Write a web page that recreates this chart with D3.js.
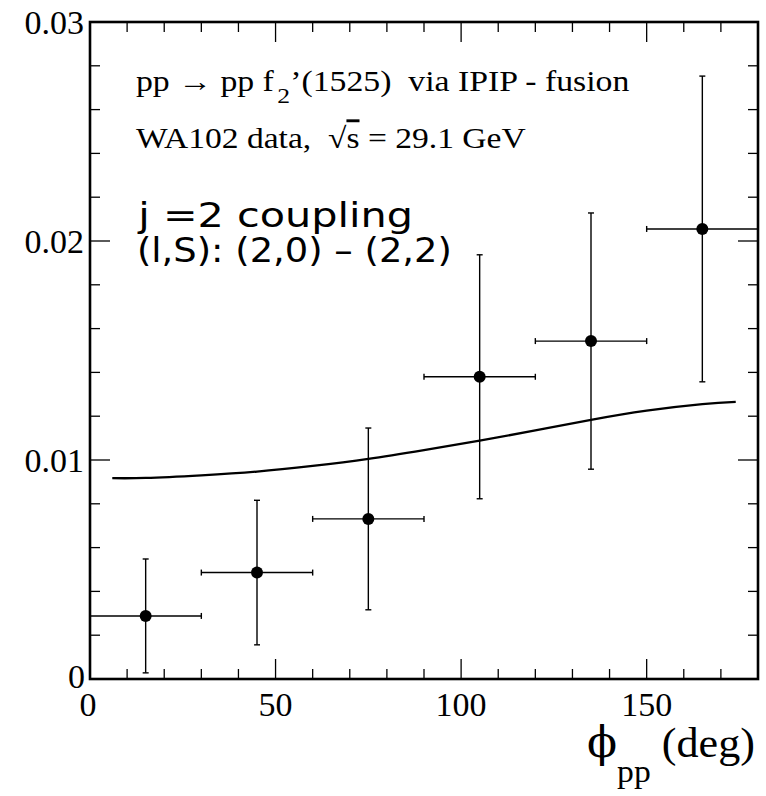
<!DOCTYPE html>
<html>
<head>
<meta charset="utf-8">
<script src="https://cdn.jsdelivr.net/npm/d3@7"></script>
<style>
  html, body { margin: 0; padding: 0; background: #fff; }
  svg { display: block; }
  text { white-space: pre; }
</style>
</head>
<body>
<svg id="chart" width="766" height="796"></svg>
<script>
// Azimuthal angle between outgoing protons, bin centres (deg)
const phiCenters = [15, 45, 75, 105, 135, 165];
const binHalfWidth = [15, 15, 15, 15, 15, 15];
// WA102 measured distribution and symmetric errors
const dataValues = [0.00288, 0.00486, 0.00731, 0.0138, 0.01543, 0.02055];
const dataErrors = [0.0026, 0.0033, 0.00415, 0.00557, 0.00585, 0.00698];
// Model prediction (j=2 coupling)
const curvePhi = [6, 15, 30, 45, 60, 75, 90, 105, 120, 135, 150, 165, 174];
const curveValues = [0.00917, 0.00918, 0.0093, 0.00947, 0.00973, 0.01005, 0.01045, 0.01088, 0.01135, 0.01183, 0.01225, 0.01255, 0.01265];
// Axis ticks
const xMajorTicks = [0, 50, 100, 150];
const xMinorTicks = d3.range(0, 181, 10);
const yMajorTicks = [0, 0.01, 0.02, 0.03];
const yMinorTicks = d3.range(0, 0.0301, 0.002);
const yTickLabels = ["0", "0.01", "0.02", "0.03"];

const svg = d3.select("#chart");
const margin = { left: 90, top: 22, right: 8, bottom: 117 };
const W = 766, H = 796;
const x0 = margin.left, x1 = W - margin.right;
const y0 = H - margin.bottom, y1 = margin.top;

const x = d3.scaleLinear().domain([0, 180]).range([x0, x1]);
const y = d3.scaleLinear().domain([0, 0.03]).range([y0, y1]);

const serif = "'Liberation Serif', 'Times New Roman', serif";
const sans = "'DejaVu Sans', Verdana, sans-serif";

// Ticks (inward on all four sides)
const tickG = svg.append("g").attr("stroke", "#000").attr("stroke-width", 1.3);
xMinorTicks.forEach(v => {
  const len = xMajorTicks.includes(v) ? 20 : 10;
  tickG.append("line").attr("x1", x(v)).attr("x2", x(v)).attr("y1", y0).attr("y2", y0 - len);
  tickG.append("line").attr("x1", x(v)).attr("x2", x(v)).attr("y1", y1).attr("y2", y1 + len);
});
yMinorTicks.forEach(v => {
  const isMajor = yMajorTicks.some(m => Math.abs(m - v) < 1e-9);
  const len = isMajor ? 20 : 10;
  tickG.append("line").attr("x1", x0).attr("x2", x0 + len).attr("y1", y(v)).attr("y2", y(v));
  tickG.append("line").attr("x1", x1).attr("x2", x1 - len).attr("y1", y(v)).attr("y2", y(v));
});

// Tick labels
svg.append("g").selectAll("text").data(xMajorTicks).join("text")
  .attr("x", d => x(d) - (d === 0 ? 2 : 0))
  .attr("y", 716)
  .attr("text-anchor", "middle")
  .attr("font-family", serif).attr("font-size", 34)
  .text(d => d);
svg.append("g").selectAll("text").data(yMajorTicks).join("text")
  .attr("x", (d, i) => i === 0 ? 85 : 84)
  .attr("y", (d, i) => y(d) - (i === 0 ? 3 : 0))
  .attr("dy", "0.34em")
  .attr("text-anchor", "end")
  .attr("font-family", serif).attr("font-size", 34)
  .text((d, i) => yTickLabels[i]);

// Model curve
const line = d3.line().x(d => x(d[0])).y(d => y(d[1])).curve(d3.curveNatural);
svg.append("path")
  .datum(curvePhi.map((p, i) => [p, curveValues[i]]))
  .attr("d", line)
  .attr("fill", "none").attr("stroke", "#000").attr("stroke-width", 2.3);

// Data points with error bars
const cap = 3;
const pts = svg.append("g").attr("stroke", "#000").attr("stroke-width", 1.4);
phiCenters.forEach((p, i) => {
  const v = dataValues[i], e = dataErrors[i], h = binHalfWidth[i];
  const g = pts.append("g");
  g.append("line").attr("x1", x(p - h)).attr("x2", x(p + h)).attr("y1", y(v)).attr("y2", y(v));
  g.append("line").attr("x1", x(p - h)).attr("x2", x(p - h)).attr("y1", y(v) - cap).attr("y2", y(v) + cap);
  g.append("line").attr("x1", x(p + h)).attr("x2", x(p + h)).attr("y1", y(v) - cap).attr("y2", y(v) + cap);
  g.append("line").attr("x1", x(p)).attr("x2", x(p)).attr("y1", y(v - e)).attr("y2", y(v + e));
  g.append("line").attr("x1", x(p) - cap).attr("x2", x(p) + cap).attr("y1", y(v - e)).attr("y2", y(v - e));
  g.append("line").attr("x1", x(p) - cap).attr("x2", x(p) + cap).attr("y1", y(v + e)).attr("y2", y(v + e));
  svg.append("circle").attr("cx", x(p)).attr("cy", y(v)).attr("r", 6).attr("fill", "#000");
});

// Frame
svg.append("rect")
  .attr("x", x0).attr("y", y1).attr("width", x1 - x0).attr("height", y0 - y1)
  .attr("fill", "none").attr("stroke", "#000").attr("stroke-width", 2.6);

// Stretch a text element horizontally so it spans the given width
function fitWidth(sel, left, width) {
  const bb = sel.node().getBBox();
  const k = width / bb.width;
  sel.attr("transform", `translate(${left},0) scale(${k},1) translate(${-bb.x},0)`);
}

// Annotations
const t1 = svg.append("text").attr("x", 136).attr("y", 91)
  .attr("font-family", serif).attr("font-size", 29);
t1.append("tspan").text("pp \u2192 pp f");
t1.append("tspan").attr("dy", 12).attr("dx", 3).attr("font-size", 22).text("2");
t1.append("tspan").attr("dy", -12).text("\u2019(1525)  via IPIP - fusion");
fitWidth(t1, 136, 494);

const t2 = svg.append("text").attr("x", 136).attr("y", 148)
  .attr("font-family", serif).attr("font-size", 29);
t2.append("tspan").text("WA102 data,  \u221A");
t2.append("tspan").attr("text-decoration", "overline").text("s");
t2.append("tspan").text(" = 29.1 GeV");
fitWidth(t2, 136, 390);

const t3 = svg.append("text").attr("x", 137).attr("y", 227)
  .attr("font-family", sans).attr("font-size", 33)
  .text("j =2 coupling");
fitWidth(t3, 137, 276);

const t4 = svg.append("text").attr("x", 137).attr("y", 262)
  .attr("font-family", sans).attr("font-size", 33)
  .text("(l,S): (2,0) \u2013 (2,2)");
fitWidth(t4, 137, 315);

// Axis title
const xt = svg.append("text").attr("x", 587).attr("y", 757)
  .attr("font-family", serif).attr("font-size", 42);
xt.append("tspan").attr("font-family", "'DejaVu Serif', 'Liberation Serif', serif").text("\u03D5");
xt.append("tspan").attr("dy", 25).attr("font-size", 32).text("pp");
xt.append("tspan").attr("dy", -25).text(" (deg)");
fitWidth(xt, 587, 168);
</script>
</body>
</html>
